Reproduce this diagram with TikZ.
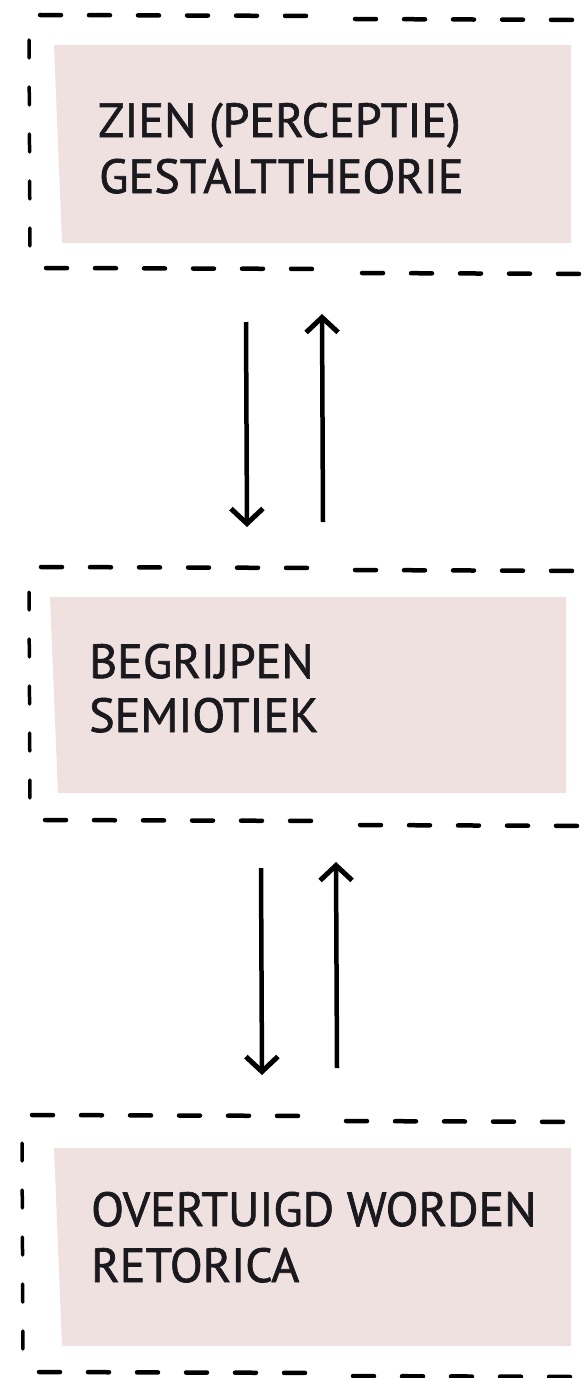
\documentclass[tikz,border=0pt]{standalone}
\usepackage{fontspec}
\setmainfont{PT Sans}[FakeBold=1.4]
\usetikzlibrary{arrows.meta}
\definecolor{boxpink}{RGB}{240,225,225}
\definecolor{inkdark}{RGB}{25,25,30}
\tikzset{
  hdash/.style={line width=4.5pt, line cap=round, dash pattern=on 21pt off 28pt},
  vdash/.style={line width=3.5pt, line cap=round, dash pattern=on 18pt off 29pt},
  lbl/.style={anchor=base west, inner sep=0pt, text=inkdark, font=\fontsize{48}{56}\selectfont},
  arr/.style={line width=4.5pt, -{Straight Barb[length=15pt,width=32pt,line width=5pt]}}
}
\begin{document}
\begin{tikzpicture}[x=1pt,y=-1pt]
\useasboundingbox (0,0) rectangle (583,1378);
% ---------- box 1 ----------
\fill[boxpink] (54,45) -- (571,45) -- (571,243) -- (62,243) -- cycle;
\draw[hdash] (40,15) -- (320,16);
\draw[hdash] (355,19) -- (590,20);
\draw[hdash] (46,268) -- (330,269);
\draw[hdash] (362,273) -- (590,274);
\draw[vdash] (29,40) -- (30,250);
\node[lbl] (t1a) at (98,137) {ZIEN (PERCEPTIE)};
\node[lbl] (t1b) at (99,193) {GESTALTTHEORIE};
% ---------- box 2 ----------
\fill[boxpink] (50,597) -- (566,597) -- (566,793) -- (58,793) -- cycle;
\draw[hdash] (41,567) -- (320,568);
\draw[hdash] (355,570) -- (590,571);
\draw[hdash] (45,820) -- (330,821);
\draw[hdash] (360,825) -- (590,826);
\draw[vdash] (29,592) -- (30,802);
\node[lbl] (t2a) at (89,678) {BEGRIJPEN};
\node[lbl] (t2b) at (89,732) {SEMIOTIEK};
% ---------- box 3 ----------
\fill[boxpink] (54,1148) -- (571,1148) -- (571,1346) -- (62,1346) -- cycle;
\draw[hdash] (32,1115) -- (320,1116);
\draw[hdash] (346,1121) -- (590,1122);
\draw[hdash] (39,1372) -- (330,1373);
\draw[hdash] (353,1376) -- (590,1377);
\draw[vdash] (22,1143) -- (23,1355);
\node[lbl] (t3a) at (91,1226) {OVERTUIGD WORDEN};
\node[lbl] (t3b) at (91,1282) {RETORICA};
% ---------- arrows ----------
\coordinate (d1s) at (246,322);
\coordinate (d1e) at (247,527);
\coordinate (u1s) at (323,522);
\coordinate (u1e) at (322,314);
\coordinate (d2s) at (261,868);
\coordinate (d2e) at (262,1075);
\coordinate (u2s) at (337,1068);
\coordinate (u2e) at (336,862);
\draw[arr] (d1s) -- (d1e);
\draw[arr] (u1s) -- (u1e);
\draw[arr] (d2s) -- (d2e);
\draw[arr] (u2s) -- (u2e);
\end{tikzpicture}
\end{document}
